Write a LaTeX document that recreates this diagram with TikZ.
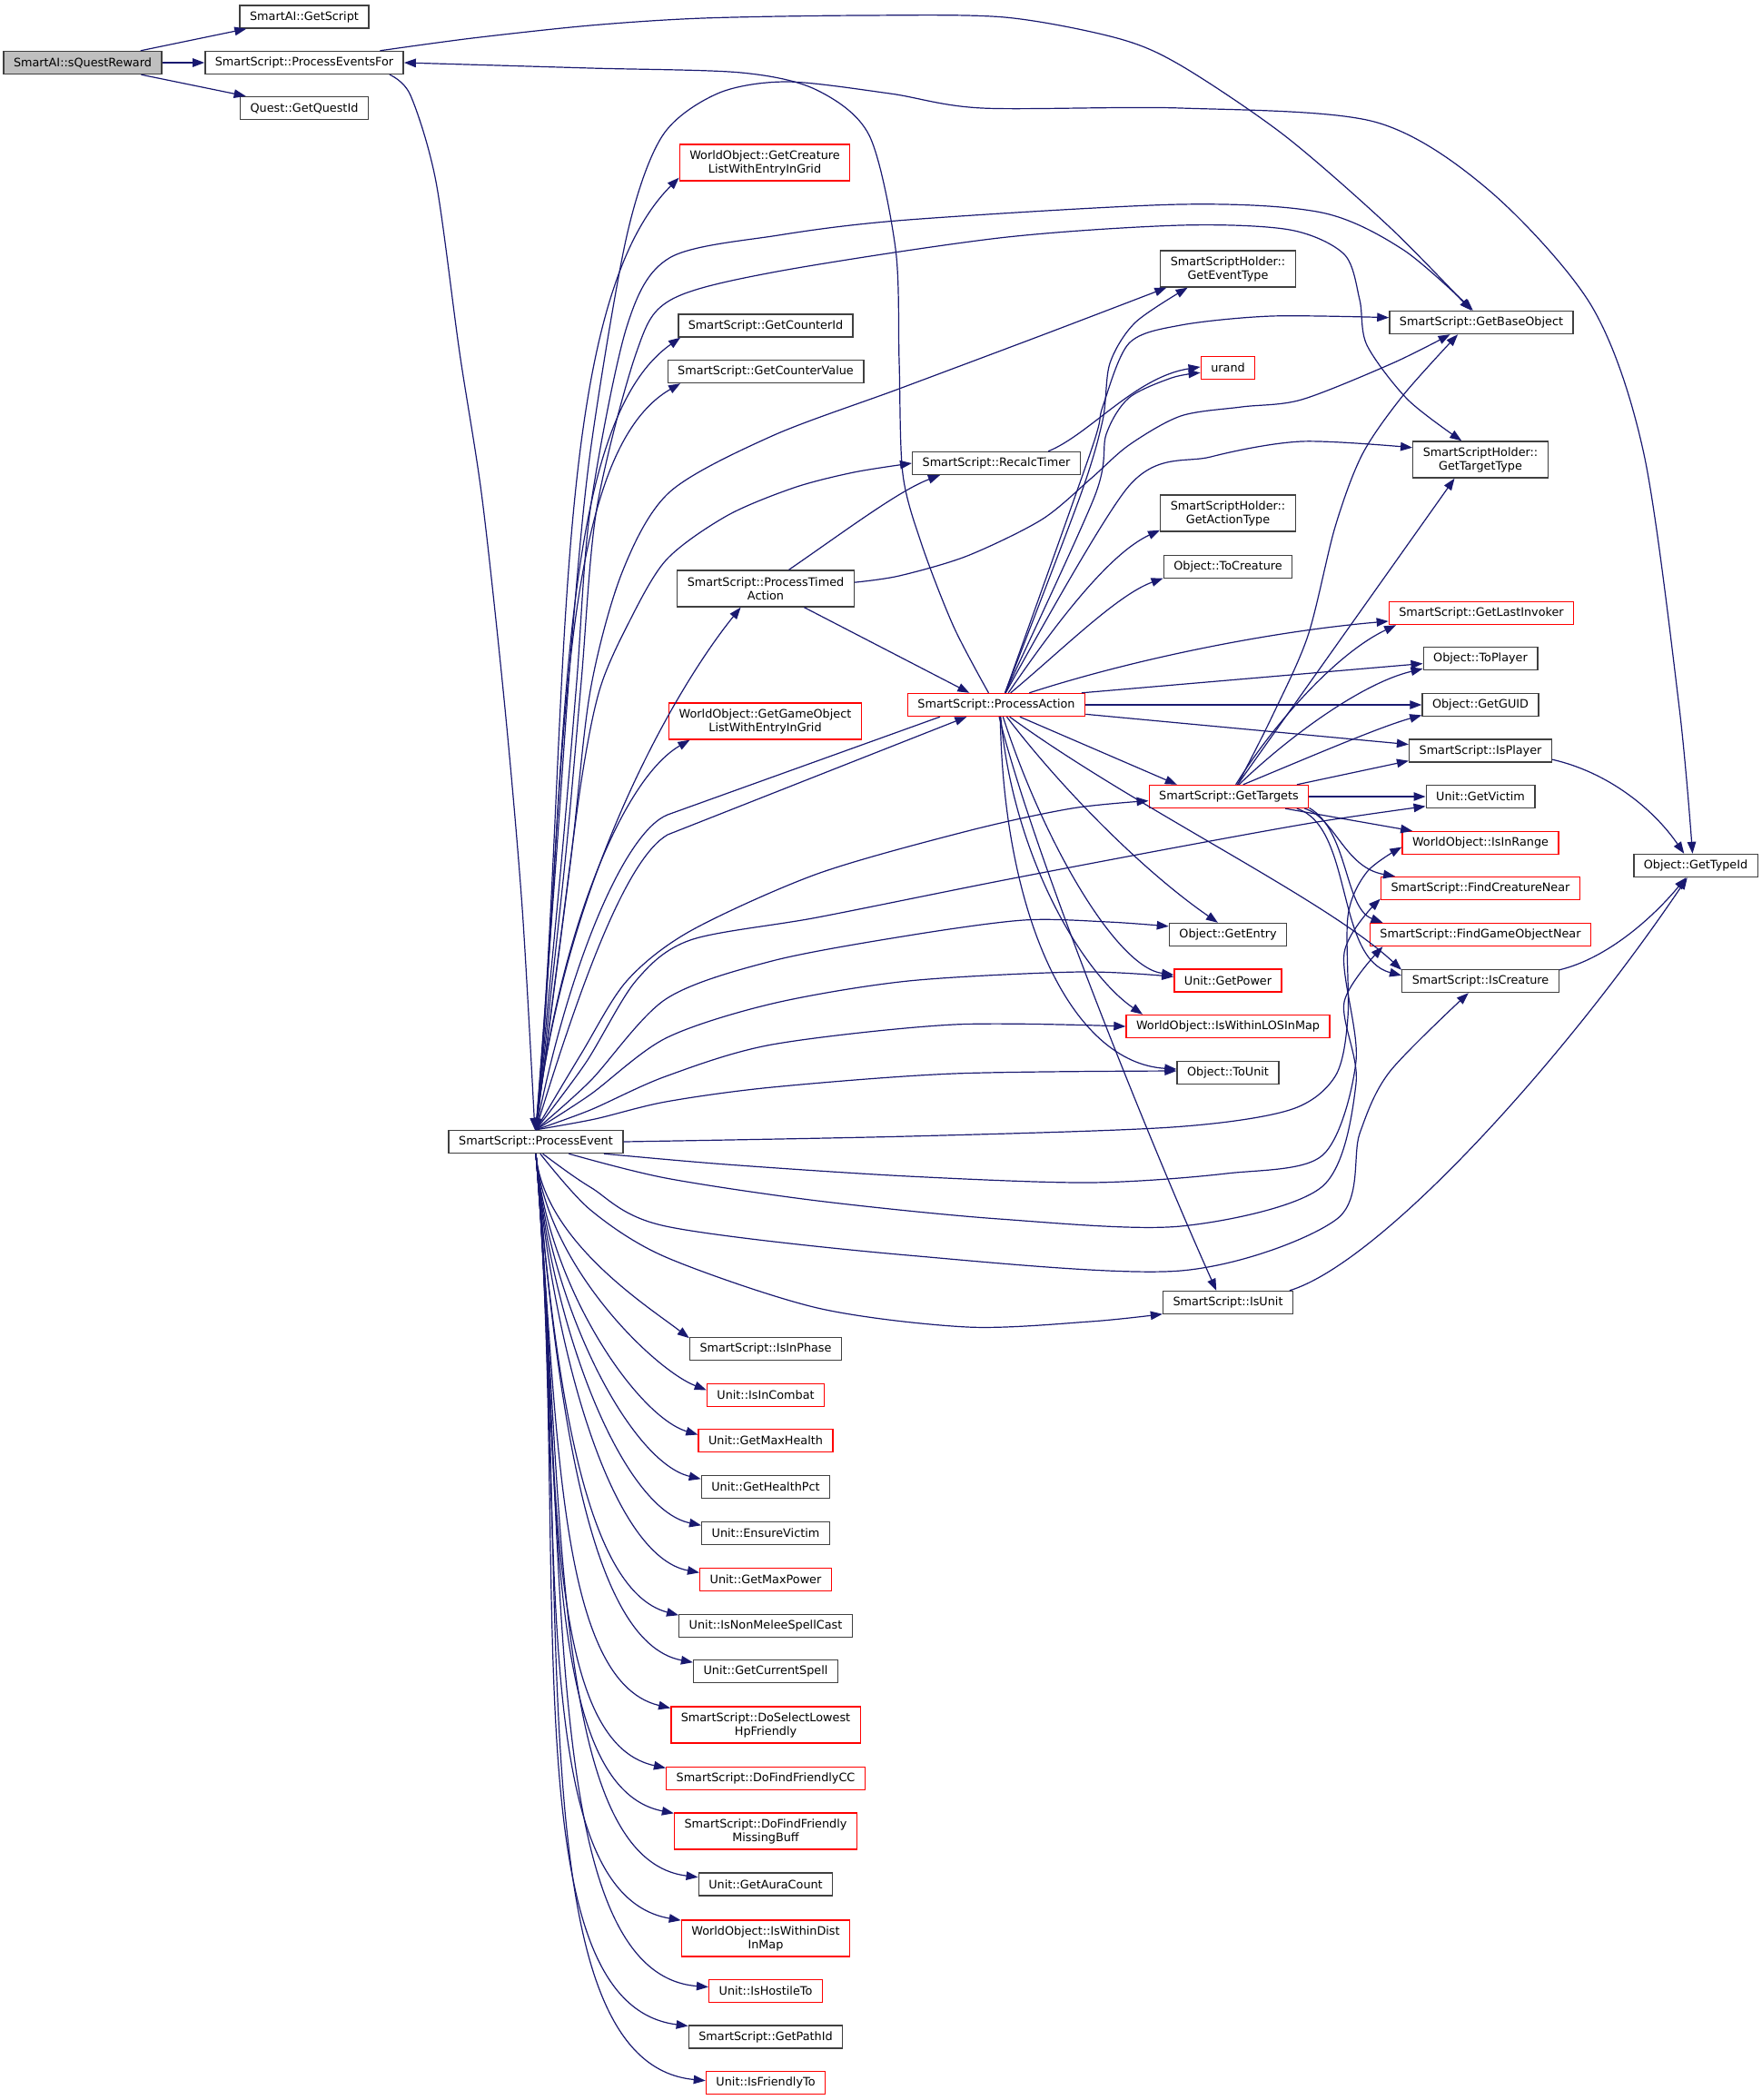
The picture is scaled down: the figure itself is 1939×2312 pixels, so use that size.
\documentclass[tikz,border=0pt]{standalone}
\usepackage{fontspec}
\setmainfont{DejaVu Sans}
\usetikzlibrary{arrows.meta}
\definecolor{edgeblue}{HTML}{191970}
\definecolor{rootfill}{HTML}{BFBFBF}

\begin{document}
\begin{tikzpicture}[x=1pt, y=-1pt,
  fn/.style={draw=black!75, line width=1.4pt, fill=white, font=\fontsize{12.8}{15}\selectfont,
    inner xsep=11pt, inner ysep=0pt, minimum height=25pt, align=center},
  fnred/.style={fn, draw=red},
  fnroot/.style={fn, fill=rootfill},
  twoline/.style={minimum height=40pt},
  calls/.style={draw=edgeblue, line width=1.2pt, -{Triangle[length=13pt, width=9.5pt]}}]

\useasboundingbox (0,0) rectangle (1939,2312);

\node[fnroot] (sqr) at (91,69) {SmartAI::sQuestReward};
\node[fn] (getscript) at (335,18.5) {SmartAI::GetScript};
\node[fn] (pef) at (335,69) {SmartScript::ProcessEventsFor};
\node[fn] (questid) at (335,119) {Quest::GetQuestId};

\node[fnred, twoline] (crlist) at (842,179) {WorldObject::GetCreature\\ListWithEntryInGrid};
\node[fn] (cntid) at (843,358.5) {SmartScript::GetCounterId};
\node[fn] (cntval) at (843,409) {SmartScript::GetCounterValue};
\node[fn, twoline] (pta) at (843,648) {SmartScript::ProcessTimed\\Action};
\node[fnred, twoline] (golist) at (842.5,794) {WorldObject::GetGameObject\\ListWithEntryInGrid};
\node[fn] (pe) at (590,1257) {SmartScript::ProcessEvent};

\node[fn] (recalc) at (1097,510) {SmartScript::RecalcTimer};
\node[fnred] (pa) at (1097,776) {SmartScript::ProcessAction};

\node[fn, twoline] (evtype) at (1352,296) {SmartScriptHolder::\\GetEventType};
\node[fnred] (urand) at (1352,405) {urand};
\node[fn, twoline] (acttype) at (1352,565) {SmartScriptHolder::\\GetActionType};
\node[fn] (tocreat) at (1352,624) {Object::ToCreature};
\node[fnred] (targets) at (1353,877) {SmartScript::GetTargets};
\node[fn] (entry) at (1352,1029) {Object::GetEntry};
\node[fnred] (power) at (1352,1079.5) {Unit::GetPower};
\node[fnred] (los) at (1352,1130) {WorldObject::IsWithinLOSInMap};
\node[fn] (tounit) at (1352,1181) {Object::ToUnit};
\node[fn] (isunit) at (1352,1434) {SmartScript::IsUnit};

\node[fn] (baseobj) at (1631,355) {SmartScript::GetBaseObject};
\node[fn, twoline] (tgttype) at (1630,506) {SmartScriptHolder::\\GetTargetType};
\node[fnred] (lastinv) at (1631,675) {SmartScript::GetLastInvoker};
\node[fn] (toplayer) at (1630,725) {Object::ToPlayer};
\node[fn] (guid) at (1630,776) {Object::GetGUID};
\node[fn] (isplayer) at (1630,826.5) {SmartScript::IsPlayer};
\node[fn] (victim) at (1630,877) {Unit::GetVictim};
\node[fnred] (inrange) at (1630,928) {WorldObject::IsInRange};
\node[fnred] (fcn) at (1630,978) {SmartScript::FindCreatureNear};
\node[fnred] (fgon) at (1630,1029) {SmartScript::FindGameObjectNear};
\node[fn] (iscreat) at (1630,1080) {SmartScript::IsCreature};
\node[fn] (typeid) at (1867,953) {Object::GetTypeId};

\node[fn] (phase) at (843,1485) {SmartScript::IsInPhase};
\node[fnred] (combat) at (843,1536) {Unit::IsInCombat};
\node[fnred] (maxhp) at (843,1586) {Unit::GetMaxHealth};
\node[fn] (hppct) at (843,1637) {Unit::GetHealthPct};
\node[fn] (ensure) at (843,1688) {Unit::EnsureVictim};
\node[fnred] (maxpow) at (843,1739) {Unit::GetMaxPower};
\node[fn] (nonmelee) at (843,1790) {Unit::IsNonMeleeSpellCast};
\node[fn] (curspell) at (843,1840) {Unit::GetCurrentSpell};
\node[fnred, twoline] (lowest) at (843,1899) {SmartScript::DoSelectLowest\\HpFriendly};
\node[fnred] (ffcc) at (843,1958) {SmartScript::DoFindFriendlyCC};
\node[fnred, twoline] (ffbuff) at (843,2016) {SmartScript::DoFindFriendly\\MissingBuff};
\node[fn] (aura) at (843,2074.5) {Unit::GetAuraCount};
\node[fnred, twoline] (dist) at (843,2134) {WorldObject::IsWithinDist\\InMap};
\node[fnred] (hostile) at (843,2192) {Unit::IsHostileTo};
\node[fn] (pathid) at (843,2242.5) {SmartScript::GetPathId};
\node[fnred] (friendly) at (843,2293) {Unit::IsFriendlyTo};

\draw[calls] (sqr) -- (getscript);
\draw[calls] (sqr) -- (pef);
\draw[calls] (sqr) -- (questid);

\draw[calls] plot[smooth] coordinates {(pef.-8) (452,105) (480,200) (506,388) (531,550) (556,780) (575,1000) (pe.95)};
\draw[calls] plot[smooth] coordinates {(pef.9) (520,42) (650,28) (774,20) (950,17) (1106,19) (1230,42) (1300,72) (1414,149) (1530,250) (baseobj.130)};
\draw[calls] plot[smooth] coordinates {(pa.123) (1050,690) (1015,600) (994,522) (990,398) (986,274) (957,149) (899,99) (816,80) (650,75) (pef.east)};

\draw[calls] plot[smooth] coordinates {(pe.north) (612,950) (630,700) (650,497) (690,260) (729,150) (790,103) (866,90) (980,103) (1081,119) (1300,119) (1513,134) (1640,210) (1753,338) (1810,500) (1849,780) (typeid.105)};
\draw[calls] plot[smooth] coordinates {(pe.north) (618,950) (635,750) (650,560) (690,360) (737,284) (857,259) (1000,242) (1300,225) (1455,234) (1545,275) (baseobj.125)};
\draw[calls] plot[smooth] coordinates {(pe.north) (622,950) (640,750) (657,560) (700,390) (737,331) (850,300) (1100,262) (1300,248) (1420,253) (1480,280) (1497,330) (1505,380) (1550,440) (tgttype.135)};
\draw[calls] plot[smooth] coordinates {(pe.north) (628,950) (650,760) (685,630) (737,542) (850,480) (990,428) (1150,368) (evtype.197)};
\draw[calls] plot[smooth] coordinates {(pe.north) (615,1050) (640,860) (660,760) (690,690) (733,617) (800,568) (874,537) (940,520) (recalc.west)};
\draw[calls] (pe.north) .. controls +(40,-450) and +(-147,147) .. (crlist.190);
\draw[calls] (pe.north) .. controls +(36,-380) and +(-142,100) .. (cntid.188);
\draw[calls] (pe.north) .. controls +(34,-360) and +(-142,82) .. (cntval.188);
\draw[calls] (pe.north) .. controls +(28,-265) and +(-76,94) .. (pta.217);
\draw[calls] (pe.north) .. controls +(21,-198) and +(-78,45) .. (golist.194);

\draw[calls] (pe.north) .. controls (640,1080) and (690,945) .. (735,919) -- (pa.202);
\draw[calls] (pa.192) -- (735,897) .. controls (690,915) and (630,1050) .. (pe.north);

\draw[calls] plot[smooth] coordinates {(pe.north) (640,1160) (690,1080) (760,1025) (900,962) (1065,915) (1180,890) (targets.183)};
\draw[calls] plot[smooth] coordinates {(pe.north) (645,1170) (700,1080) (760,1035) (900,1010) (1100,970) (1300,932) (1450,905) (victim.190)};
\draw[calls] plot[smooth] coordinates {(pe.north) (650,1190) (733,1100) (850,1058) (1000,1030) (1127,1013) (1220,1015) (entry.172)};
\draw[calls] plot[smooth] coordinates {(pe.north) (650,1205) (733,1143) (850,1105) (1000,1080) (1189,1070) (power.176)};
\draw[calls] plot[smooth] coordinates {(pe.north) (650,1222) (733,1185) (850,1150) (1050,1128) (los.west)};
\draw[calls] plot[smooth] coordinates {(pe.north) (655,1232) (733,1213) (850,1197) (1050,1182) (tounit.178)};
\draw[calls] plot[smooth] coordinates {(pe.east) (1000,1251) (1290,1241) (1420,1222) (1470,1185) (1484,1120) (1484,1009) (1505,960) (inrange.183)};
\draw[calls] plot[smooth] coordinates {(pe.-10) (800,1282) (1000,1295) (1200,1302) (1350,1292) (1456,1272) (1493,1168) (1480,1049) (fcn.186)};
\draw[calls] plot[smooth] coordinates {(pe.-20) (733,1297) (900,1322) (1100,1342) (1300,1350) (1455,1307) (1493,1193) (1480,1103) (fgon.187)};
\draw[calls] plot[smooth] coordinates {(pe.-60) (650,1307) (733,1350) (1000,1382) (1300,1399) (1472,1342) (1497,1248) (1530,1180) (iscreat.225)};
\draw[calls] plot[smooth] coordinates {(pe.-70) (650,1332) (733,1384) (900,1440) (1065,1461) (1200,1455) (isunit.190)};
\foreach \n/\a/\k/\z in {phase/172/203/35, combat/175/260/22, maxhp/175/310/20, hppct/173/359/18,
    ensure/173/409/18, maxpow/174/461/18, nonmelee/173/507/28, curspell/173/561/22,
    lowest/170/611/30, ffcc/174/675/30, ffbuff/169/727/30, aura/174/797/20,
    dist/168/845/30, hostile/176/918/15, pathid/172/963/25, friendly/178/1021/20}
  \draw[calls] (pe.south) .. controls +({0.04*\k},{0.47*\k}) and +({-0.2*\k-5},-\z) .. (\n.\a);

\draw[calls] (pta.39) .. controls (930,585) and (990,540) .. (recalc.192);
\draw[calls] (pta.-26) -- (pa.156);
\draw[calls] plot[smooth] coordinates {(pta.4) (990,634) (1065,612) (1147,572) (1201,527) (1243,490) (1300,458) (1367,448) (1433,440) (1533,400) (baseobj.201)};
\draw[calls] (recalc.13) .. controls (1200,478) and (1250,415) .. (urand.178);

\draw[calls] plot[smooth] coordinates {(pa.54) (1189,547) (1214,463) (1222,400) (1250,355) (evtype.205)};
\draw[calls] plot[smooth] coordinates {(pa.54) (1201,497) (1214,448) (1243,378) (1300,358) (1400,348) (baseobj.177)};
\draw[calls] plot[smooth] coordinates {(pa.54) (1205,547) (1218,478) (1243,438) (1290,416) (urand.190)};
\draw[calls] plot[smooth] coordinates {(pa.52) (1243,535) (1333,503) (1433,486) (tgttype.170)};
\draw[calls] (pa.45) .. controls (1160,690) and (1220,610) .. (acttype.194);
\draw[calls] (pa.40) .. controls (1170,715) and (1230,655) .. (tocreat.190);
\draw[calls] (pa.20) .. controls (1250,725) and (1400,695) .. (lastinv.185);
\draw[calls] (pa.8) -- (toplayer.185);
\draw[calls] (pa.east) -- (guid.west);
\draw[calls] (pa.-6) -- (isplayer.175);
\draw[calls] (pa.-27) -- (targets.167);
\draw[calls] (pa.-49) .. controls (1170,870) and (1260,960) .. (entry.130);
\draw[calls] (pa.-61) .. controls (1150,930) and (1230,1065) .. (power.174);
\draw[calls] (pa.-70) .. controls (1115,940) and (1190,1070) .. (los.172);
\draw[calls] (pa.-72) .. controls (1105,1010) and (1180,1170) .. (tounit.176);
\draw[calls] (pa.-77) .. controls (1140,950) and (1280,1290) .. (isunit.134);
\draw[calls] (pa.-42) .. controls (1250,890) and (1460,990) .. (iscreat.172);

\draw[calls] (targets.54) -- (tgttype.216);
\draw[calls] plot[smooth] coordinates {(targets.54) (1400,790) (1440,700) (1470,580) (1500,500) (1545,435) (baseobj.207)};
\draw[calls] (targets.60) .. controls (1400,800) and (1470,720) .. (lastinv.188);
\draw[calls] (targets.50) .. controls (1420,810) and (1500,752) .. (toplayer.190);
\draw[calls] (targets.40) .. controls (1450,830) and (1520,800) .. (guid.190);
\draw[calls] (targets.10) -- (isplayer.188);
\draw[calls] (targets.east) -- (victim.west);
\draw[calls] (targets.-12) -- (inrange.170);
\draw[calls] (targets.-9) .. controls (1470,900) and (1480,955) .. (fcn.172);
\draw[calls] (targets.-8) .. controls (1485,915) and (1480,1000) .. (fgon.173);
\draw[calls] (targets.-10) .. controls (1490,910) and (1470,1055) .. (iscreat.176);

\draw[calls] (isplayer.-7) .. controls (1770,850) and (1820,890) .. (typeid.134);
\draw[calls] (iscreat.8) .. controls (1770,1055) and (1820,1010) .. (typeid.231);
\draw[calls] (isunit.11) .. controls (1520,1390) and (1720,1170) .. (typeid.235);

\end{tikzpicture}
\end{document}
